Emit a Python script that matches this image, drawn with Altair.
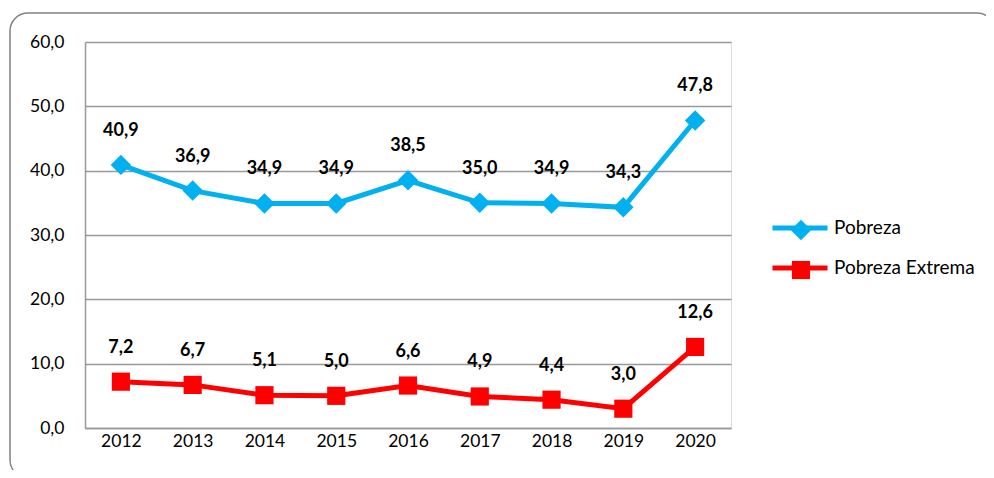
import altair as alt
import pandas as pd

years = ["2012", "2013", "2014", "2015", "2016", "2017", "2018", "2019", "2020"]
pobreza = [40.9, 36.9, 34.9, 34.9, 38.5, 35.0, 34.9, 34.3, 47.8]
extrema = [7.2, 6.7, 5.1, 5.0, 6.6, 4.9, 4.4, 3.0, 12.6]
series_names = ["Pobreza", "Pobreza Extrema"]
colors = ["#00B0F0", "#FF0000"]

rows = []
for y, a, b in zip(years, pobreza, extrema):
    rows.append({"year": y, "serie": series_names[0], "v": a})
    rows.append({"year": y, "serie": series_names[1], "v": b})
df = pd.DataFrame(rows)

FONT = "Lato"
W, H = 646, 386

base = alt.Chart(df).encode(
    x=alt.X("year:O", scale=alt.Scale(type="point", padding=0.5),
            axis=alt.Axis(title=None, labelAngle=0, ticks=False, labelPadding=4,
                          labelFontSize=17.5, labelFont=FONT, labelColor="#000",
                          domainColor="#999", domainWidth=1.5, grid=False)),
    y=alt.Y("v:Q", scale=alt.Scale(domain=[0, 60], nice=False),
            axis=alt.Axis(title=None, values=[0, 10, 20, 30, 40, 50, 60], ticks=False,
                          labelPadding=21, labelFontSize=17.5, labelFont=FONT, labelColor="#000",
                          labelExpr="replace(format(datum.value, '.1f'), '.', ',')",
                          domainColor="#999", domainWidth=1.5,
                          grid=True, gridColor="#999", gridWidth=1.5)),
)

line = base.mark_line(strokeWidth=5).encode(
    color=alt.Color("serie:N", scale=alt.Scale(domain=series_names, range=colors),
                    legend=alt.Legend(title=None, orient="none", legendX=685, legendY=156,
                                      symbolType="stroke", symbolSize=3025, symbolStrokeWidth=5,
                                      labelFontSize=19, labelFont=FONT, labelColor="#000",
                                      labelOffset=4, rowPadding=-15, padding=0))
)

points = base.mark_point(filled=True, opacity=1).encode(
    color=alt.Color("serie:N", scale=alt.Scale(domain=series_names, range=colors),
                    legend=alt.Legend(title=None, orient="none", legendX=705, legendY=177,
                                      symbolSize=150, labelExpr="''", labelFontSize=1,
                                      rowPadding=19, padding=0)),
    shape=alt.Shape("serie:N", scale=alt.Scale(domain=series_names, range=["diamond", "square"]),
                    legend=None),
    size=alt.Size("serie:N", scale=alt.Scale(domain=series_names, range=[420, 330]), legend=None),
)

labels = base.transform_calculate(
    lab="replace(format(datum.v, '.1f'), '.', ',')"
).mark_text(dy=-34, fontSize=18, fontWeight="bold", font=FONT, color="#000").encode(
    text="lab:N"
)

border = alt.Chart(pd.DataFrame({"a": [0]})).mark_rect(
    fill=None, stroke="#808080", strokeWidth=1.5, cornerRadius=18
).encode(x=alt.value(-75), x2=alt.value(910), y=alt.value(-29), y2=alt.value(436))

chart = alt.layer(border, line, points, labels).resolve_scale(
    color="independent", shape="independent", size="independent"
).properties(
    width=W, height=H, autosize=alt.AutoSizeParams(type="none"),
    padding={"left": 77, "top": 34, "right": 255, "bottom": 42},
).configure_view(stroke=None).configure(background="white")

chart.save("out.html", embed_options={"renderer": "svg", "actions": False})
